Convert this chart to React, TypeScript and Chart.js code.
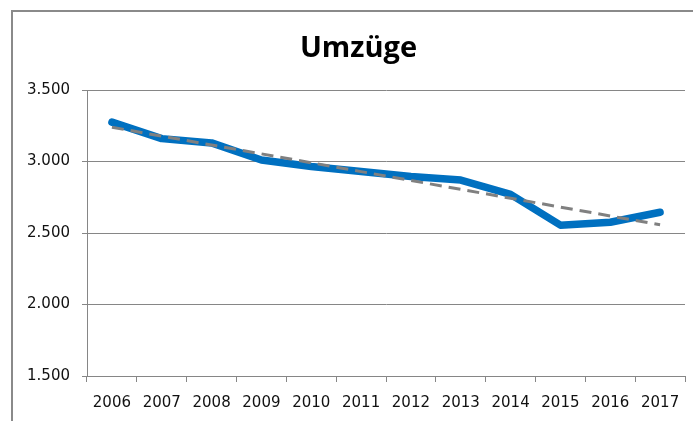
import React, { useEffect, useRef } from 'react';
import { Chart, registerables } from 'chart.js';

Chart.register(...registerables);

// ---- Data ----
const years = ['2006', '2007', '2008', '2009', '2010', '2011', '2012', '2013', '2014', '2015', '2016', '2017'];
const umzuege = [3275, 3160, 3130, 3010, 2965, 2930, 2895, 2870, 2770, 2555, 2575, 2645];
const yMin = 1500;
const yMax = 3500;
const yStep = 500;
const titleText = 'Umzüge';

// Linear trendline (least squares) of the data series, as in the spreadsheet chart
function linearTrend(values: number[]): number[] {
  const n = values.length;
  const mx = (n - 1) / 2;
  const my = values.reduce((a, b) => a + b, 0) / n;
  let sxy = 0;
  let sxx = 0;
  values.forEach((v, i) => {
    sxy += (i - mx) * (v - my);
    sxx += (i - mx) * (i - mx);
  });
  const slope = sxy / sxx;
  return values.map((_, i) => my + slope * (i - mx));
}
const trend = linearTrend(umzuege);

function fmtDe(v: number): string {
  const s = Math.round(v).toString();
  return s.replace(/\B(?=(\d{3})+(?!\d))/g, '.');
}

const GRID = '#868686';
const TICK_FONT = { family: "'DejaVu Sans', sans-serif", size: 15 };

// Centre the title over the whole chart object (which starts at the outer frame)
const titleShift = {
  id: 'titleShift',
  afterLayout(chart: any) {
    const t = chart.titleBlock;
    if (t) {
      t.left = 32;
      t.width = t.right - t.left;
    }
  },
};

export default function App() {
  const ref = useRef<HTMLCanvasElement>(null);

  useEffect(() => {
    if (!ref.current) return;
    const chart = new Chart(ref.current, {
      type: 'line',
      data: {
        labels: years,
        datasets: [
          {
            label: 'Trend',
            data: trend,
            borderColor: '#808080',
            borderWidth: 3,
            borderDash: [12, 7],
            pointRadius: 0,
            tension: 0,
            fill: false,
            order: 0,
          },
          {
            label: 'Umzüge',
            data: umzuege,
            borderColor: '#0070C0',
            borderWidth: 7.5,
            pointRadius: 0,
            tension: 0,
            fill: false,
            borderCapStyle: 'round',
            borderJoinStyle: 'round',
            order: 1,
          },
        ],
      },
      options: {
        animation: false,
        responsive: false,
        layout: { padding: { left: 0, right: 8, top: 0, bottom: 0 } },
        plugins: {
          legend: { display: false },
          tooltip: { enabled: false },
          title: {
            display: true,
            text: titleText,
            color: '#000',
            font: { family: "'Open Sans', sans-serif", size: 29, weight: 'bold', lineHeight: 1.2 },
            padding: { top: 31.5, bottom: 23.7 },
          },
        },
        scales: {
          x: {
            offset: true,
            grid: {
              offset: true,
              drawOnChartArea: false,
              drawTicks: true,
              tickLength: 6,
              color: GRID,
            },
            border: { display: true, color: GRID, width: 1 },
            ticks: {
              padding: 12,
              color: '#111',
              font: TICK_FONT,
              maxRotation: 0,
              autoSkip: false,
            },
            afterFit: (s: any) => {
              s.height = 45;
            },
          },
          y: {
            min: yMin,
            max: yMax,
            ticks: {
              stepSize: yStep,
              padding: 12,
              color: '#111',
              font: TICK_FONT,
              callback: (v: any) => fmtDe(Number(v)),
            },
            grid: { color: GRID, tickLength: 5, lineWidth: 1 },
            border: { display: true, color: GRID, width: 1 },
            afterFit: (s: any) => {
              s.width = 87;
            },
          },
        },
      },
      plugins: [titleShift],
    } as any);
    return () => chart.destroy();
  }, []);

  return (
    <div
      style={{
        position: 'fixed',
        left: 0,
        top: 0,
        width: 693,
        height: 421,
        overflow: 'hidden',
        background: '#fff',
      }}
    >
      <canvas
        ref={ref}
        width={693}
        height={421}
        style={{ position: 'absolute', left: 0, top: 0, width: 693, height: 421 }}
      />
      <div
        style={{
          position: 'absolute',
          left: 11,
          top: 10,
          width: 720,
          height: 440,
          borderLeft: '2px solid #8a8a8a',
          borderTop: '2px solid #8a8a8a',
          pointerEvents: 'none',
        }}
      />
    </div>
  );
}
